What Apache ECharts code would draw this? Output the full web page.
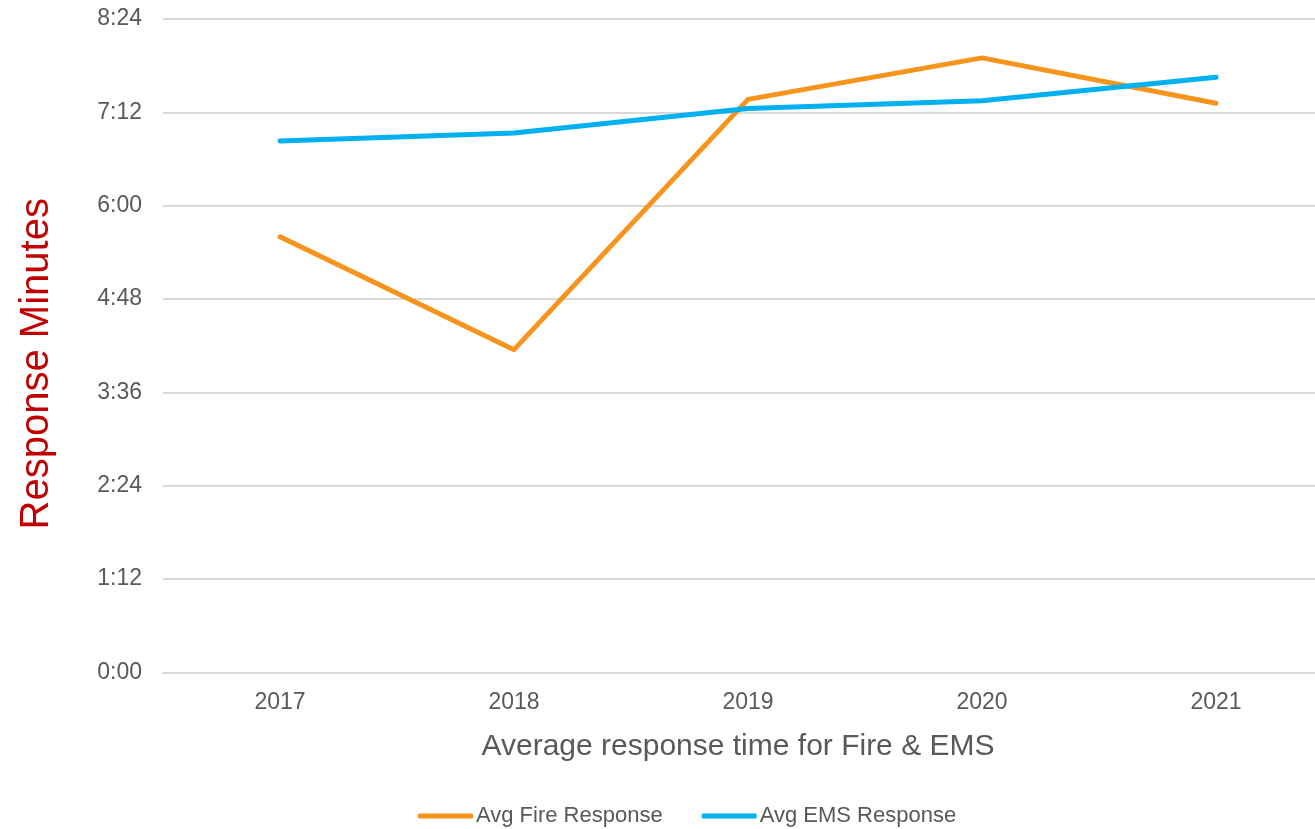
<!DOCTYPE html>
<html>
<head>
<meta charset="utf-8">
<script src="https://cdn.jsdelivr.net/npm/echarts@6/dist/echarts.min.js"></script>
<style>
html,body{margin:0;padding:0;background:#fff;overflow:hidden;width:1315px;height:829px;}
#c{width:1334px;height:829px;}
</style>
</head>
<body>
<div id="c"></div>
<script>
// Data (values in seconds)
var years = ['2017', '2018', '2019', '2020', '2021'];
var fireResponse = [336, 249, 442, 474, 439];
var emsResponse = [410, 416, 435, 441, 459];
var seriesNames = ['Avg Fire Response', 'Avg EMS Response'];
var yTickStep = 72; // 1:12
var yMax = 504;     // 8:24

function fmt(v) {
  var m = Math.floor(v / 60);
  var s = Math.round(v - m * 60);
  return m + ':' + (s < 10 ? '0' : '') + s;
}

var chart = echarts.init(document.getElementById('c'));
chart.setOption({
  animation: false,
  backgroundColor: '#ffffff',
  grid: { left: 163, right: 1, top: 19, bottom: 156.5, containLabel: false },
  legend: {
    bottom: -3,
    left: 413,
    itemWidth: 55,
    itemHeight: 5,
    itemGap: 39,
    icon: 'roundRect',
    textStyle: { color: '#595959', fontSize: 22, fontFamily: 'Liberation Sans', padding: [0, 0, 0, -2] },
    data: seriesNames
  },
  xAxis: {
    type: 'category',
    data: years,
    boundaryGap: true,
    axisLine: { show: true, lineStyle: { color: '#d9d9d9', width: 2 } },
    axisTick: { show: false },
    axisLabel: { color: '#595959', fontSize: 23, fontFamily: 'Liberation Sans', margin: 19 },
    name: 'Average response time for Fire & EMS',
    nameLocation: 'middle',
    nameGap: 59,
    nameTextStyle: { color: '#595959', fontSize: 30, fontFamily: 'Liberation Sans', padding: [0, 20, 0, 0] }
  },
  yAxis: {
    type: 'value',
    min: 0,
    max: yMax,
    interval: yTickStep,
    axisLine: { show: false },
    axisTick: { show: false },
    splitLine: { lineStyle: { color: '#d9d9d9', width: 2 } },
    axisLabel: { color: '#595959', fontSize: 23, fontFamily: 'Liberation Sans', margin: 21, formatter: fmt },
    name: 'Response Minutes',
    nameLocation: 'middle',
    nameGap: 106,
    nameRotate: 90,
    nameTextStyle: { color: '#c00000', fontSize: 40, fontFamily: 'Liberation Sans', padding: [0, 36, 0, 0] }
  },
  series: [
    {
      name: seriesNames[0], type: 'line', data: fireResponse,
      symbol: 'none', lineStyle: { color: '#f7941d', width: 5, cap: 'round', join: 'round' },
      itemStyle: { color: '#f7941d' }
    },
    {
      name: seriesNames[1], type: 'line', data: emsResponse,
      symbol: 'none', lineStyle: { color: '#00b0f0', width: 5, cap: 'round', join: 'round' },
      itemStyle: { color: '#00b0f0' }
    }
  ]
});
</script>
</body>
</html>
